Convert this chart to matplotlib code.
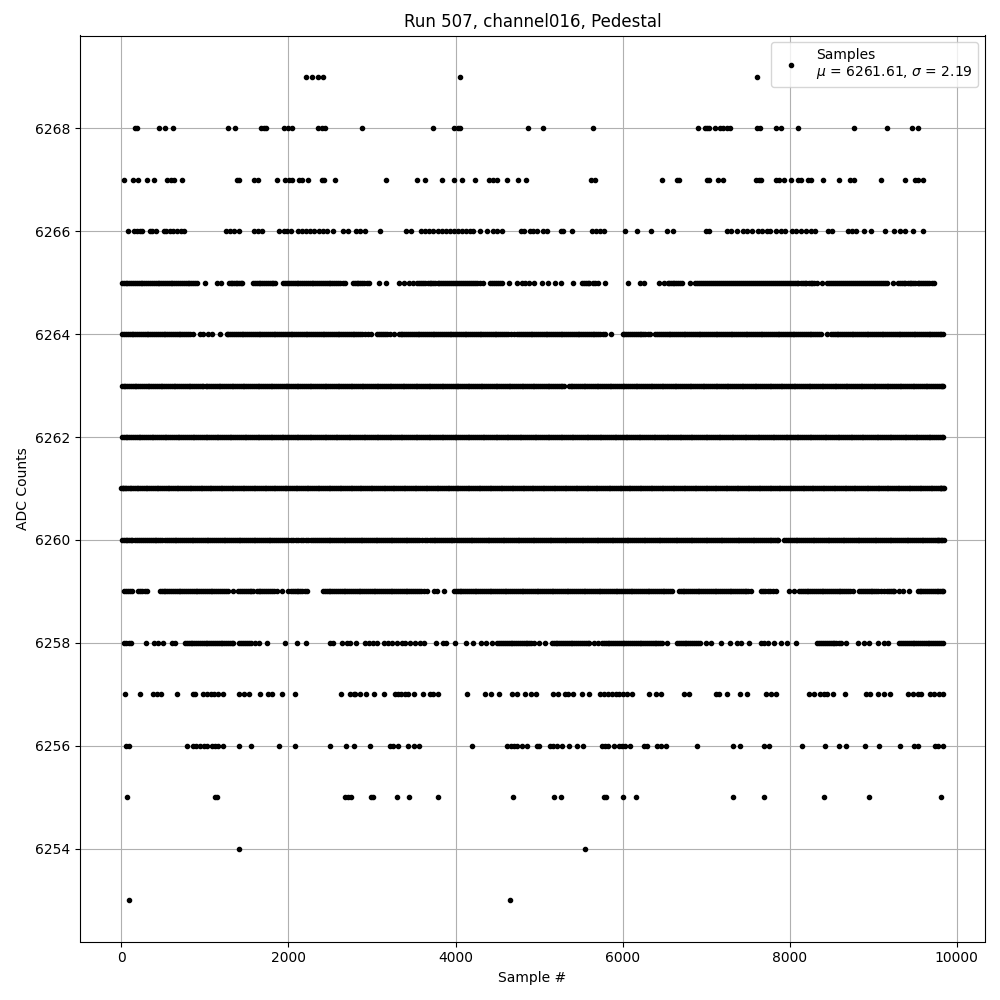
import matplotlib
matplotlib.use("Agg")
import matplotlib.pyplot as plt

s6269 = [2216, 2288, 2348, 2412, 4052, 7608]
s6268 = [160, 188, 452, 524, 624, 1280, 1364, 1676, 1704, 1736, 1952, 2000, 2040, 2348, 2400, 2432, 2876, 3728,
         3980, 4028, 4052, 4872, 5052, 5640, 6904, 6980, 7012, 7032, 7104, 7164, 7204, 7252, 7280, 7612, 7644,
         7840, 7900, 8100, 8772, 9168, 9468, 9532]
s6267 = [32, 140, 200, 312, 396, 552, 600, 636, 732, 1388, 1404, 1592, 1632, 1868, 1960, 2012, 2044, 2128, 2168,
         2232, 2400, 2424, 2552, 3164, 3536, 3632, 3836, 3980, 4076, 4232, 4396, 4444, 4500, 4616, 4748, 4844,
         5624, 5664, 6468, 6652, 6676, 7012, 7028, 7140, 7200, 7600, 7632, 7660, 7840, 7872, 7932, 8016, 8100,
         8132, 8220, 8260, 8400, 8592, 8720, 8772, 9096, 9384, 9504, 9532, 9600]
s6266 = [80, 152, 188, 220, 248, 340, 372, 420, 508, 540, 580, 620, 668, 712, 748, 1252, 1300, 1348, 1412, 1592,
         1632, 1684, 1892, 1948, 1988, 2032, 2120, 2160, 2212, 2260, 2308, 2360, 2412, 2460, 2532, 2648, 2708,
         2812, 2860, 2920, 3092, 3404, 3468, 3592, 3640, 3688, 3732, 3788, 3836, 3884, 3932, 3980, 4028, 4076,
         4124, 4172, 4204, 4292, 4376, 4444, 4500, 4552, 4780, 4820, 4892, 4932, 4972, 5052, 5092, 5260, 5292,
         5400, 5636, 5684, 5732, 5780, 6024, 6168, 6336, 6528, 6604, 6992, 7032, 7252, 7300, 7364, 7444, 7492,
         7552, 7620, 7672, 7724, 7764, 7840, 7892, 7944, 8032, 8080, 8140, 8192, 8252, 8304, 8464, 8504, 8692,
         8740, 8792, 8892, 8972, 9144, 9252, 9320, 9384, 9476, 9600]
s6265 = [12, 50, 95, 140, 185, 230, 275, 320, 365, 410, 455, 500, 545, 590, 635, 680, 725, 770, 815, 860, 905,
         1004, 1140, 1192, 1292, 1330, 1370, 1410, 1450, 1572, 1620, 1665, 1710, 1755, 1800, 1840, 1940, 1985,
         2030, 2075, 2120, 2165, 2210, 2255, 2300, 2345, 2390, 2435, 2480, 2525, 2570, 2615, 2680, 2768, 2815,
         2860, 2910, 2960, 3080, 3168, 3320, 3388, 3440, 3492, 3540, 3590, 3640, 3690, 3735, 3785, 3830, 3880,
         3925, 3975, 4020, 4070, 4115, 4165, 4210, 4260, 4332, 4412, 4460, 4510, 4560, 4640, 4740, 4790, 4835,
         4880, 4940, 5032, 5112, 5192, 5268, 5412, 5512, 5560, 5600, 5640, 5670, 5700, 5792, 6060, 6212, 6252,
         6432, 6492, 6540, 6580, 6620, 6660, 6712, 6804, 6872, 6920, 6965, 7015, 7060, 7110, 7155, 7205, 7250,
         7300, 7345, 7395, 7440, 7490, 7535, 7585, 7630, 7680, 7725, 7775, 7820, 7870, 7915, 7965, 8010, 8060,
         8105, 8155, 8200, 8250, 8295, 8332, 8384, 8452, 8500, 8545, 8595, 8640, 8690, 8735, 8785, 8830, 8880,
         8925, 8975, 9020, 9070, 9115, 9165, 9232, 9292, 9340, 9385, 9435, 9480, 9530, 9575, 9625, 9670, 9732,
         33, 72, 118, 161, 208, 252, 298, 343, 388, 433, 478, 522, 567, 612, 657, 703, 748, 793, 838, 882,
         1311, 1351, 1389, 1431, 1596, 1642, 1688, 1733, 1778, 1821, 1962, 2008, 2052, 2098, 2143, 2187, 2232,
         2278, 2323, 2367, 2412, 2458, 2503, 2547, 2592, 2648, 2791, 2838, 2885, 2935, 3565, 3615, 3665, 3712,
         3760, 3807, 3855, 3902, 3950, 3998, 4045, 4092, 4140, 4187, 4235, 4296, 4436, 4485, 4535, 5536, 5580,
         6560, 6600, 6640, 6686, 6896, 6942, 6990, 7037, 7085, 7132, 7180, 7227, 7275, 7322, 7370, 7417, 7465,
         7512, 7560, 7607, 7655, 7702, 7750, 7797, 7845, 7892, 7940, 7987, 8035, 8082, 8130, 8177, 8225, 8272,
         8476, 8522, 8570, 8617, 8665, 8712, 8760, 8807, 8855, 8902, 8950, 8997, 9045, 9092, 9140, 9316, 9362,
         9410, 9457, 9505, 9552, 9600, 9647, 9700]
s6264 = [12, 55, 100, 145, 190, 235, 280, 325, 370, 415, 460, 505, 550, 595, 640, 685, 730, 775, 820, 860, 940,
         980, 1040, 1080, 1180, 1260, 1305, 1350, 1395, 1440, 1485, 1530, 1575, 1620, 1665, 1710, 1755, 1800,
         1845, 1890, 1935, 1980, 2025, 2070, 2115, 2160, 2205, 2250, 2295, 2340, 2385, 2430, 2475, 2520, 2565,
         2610, 2655, 2700, 2745, 2790, 2835, 2880, 2950, 2992, 3060, 3105, 3150, 3220, 3260, 3320, 3365, 3410,
         3455, 3500, 3545, 3590, 3635, 3680, 3725, 3770, 3815, 3860, 3905, 3950, 3995, 4040, 4085, 4130, 4175,
         4220, 4265, 4310, 4355, 4400, 4445, 4490, 4535, 4580, 4625, 4700, 4740, 4785, 4830, 4875, 4920, 4965,
         5010, 5055, 5100, 5145, 5190, 5235, 5280, 5325, 5370, 5415, 5460, 5505, 5550, 5595, 5640, 5685, 5730,
         5792, 5860, 6000, 6045, 6090, 6135, 6180, 6225, 6270, 6332, 6392, 6437, 6482, 6527, 6572, 6617, 6662,
         6707, 6752, 6797, 6842, 6887, 6932, 6977, 7022, 7067, 7112, 7157, 7202, 7247, 7292, 7337, 7382, 7427,
         7472, 7517, 7562, 7607, 7652, 7697, 7742, 7787, 7832, 7877, 7922, 7967, 8012, 8057, 8102, 8147, 8192,
         8237, 8282, 8327, 8372, 8452, 8492, 8537, 8582, 8627, 8672, 8717, 8762, 8807, 8852, 8897, 8942, 8987,
         9032, 9077, 9122, 9167, 9212, 9257, 9302, 9347, 9392, 9437, 9482, 9527, 9572, 9617, 9662, 9707, 9752,
         9797, 9832,
         34, 78, 122, 168, 212, 258, 302, 348, 392, 438, 482, 528, 572, 618, 662, 708, 752, 798, 1282, 1328, 1372,
         1418, 1462, 1508, 1552, 1598, 1642, 1688, 1732, 1778, 1822, 1868, 1912, 1958, 2002, 2048, 2092, 2138,
         2182, 2228, 2272, 2318, 2362, 2408, 2452, 2498, 2542, 2588, 2632, 2678, 2722, 2768, 2812, 2858, 2915,
         3082, 3128, 3185, 3342, 3388, 3432, 3478, 3522, 3568, 3612, 3658, 3702, 3748, 3792, 3838, 3882, 3928,
         3972, 4018, 4062, 4108, 4152, 4198, 4242, 4288, 4332, 4378, 4422, 4468, 4512, 4558, 4602, 4662, 4762,
         4808, 4852, 4898, 4942, 4988, 5032, 5078, 5122, 5168, 5212, 5258, 5302, 5348, 5392, 5438, 5482, 5528,
         5572, 5618, 5662, 5708, 5760, 6022, 6068, 6112, 6158, 6202, 6248, 6300, 6414, 6460, 6504, 6550, 6594,
         6640, 6684, 6730, 6774, 6820, 6864, 6910, 6954, 7000, 7044, 7090, 7134, 7180, 7224, 7270, 7314, 7360,
         7404, 7450, 7494, 7540, 7584, 7630, 7674, 7720, 7764, 7810, 7854, 7900, 7944, 7990, 8034, 8080, 8124,
         8170, 8214, 8260, 8304, 8350, 8514, 8560, 8604, 8650, 8694, 8740, 8784, 8830, 8874, 8920, 8964, 9010,
         9054, 9100, 9144, 9190, 9234, 9280, 9324, 9370, 9414, 9460, 9504, 9550, 9594, 9640, 9684, 9730, 9774,
         9815]
s6263 = [5, 48, 92, 137, 180, 226, 271, 314, 360, 403, 449, 492, 538, 581, 627, 670, 716, 759, 805, 848, 894,
         937, 983, 1030, 1075, 1118, 1164, 1207, 1253, 1296, 1342, 1385, 1431, 1474, 1520, 1563, 1609, 1652,
         1698, 1741, 1787, 1830, 1876, 1919, 1965, 2008, 2054, 2097, 2143, 2186, 2232, 2275, 2321, 2364, 2410,
         2453, 2499, 2542, 2588, 2631, 2677, 2720, 2766, 2809, 2855, 2898, 2944, 2987, 3033, 3076, 3122, 3165,
         3211, 3254, 3300, 3343, 3389, 3432, 3478, 3521, 3567, 3610, 3656, 3699, 3745, 3788, 3834, 3877, 3923,
         3966, 4012, 4055, 4101, 4144, 4190, 4233, 4279, 4322, 4368, 4411, 4457, 4500, 4546, 4589, 4635, 4678,
         4724, 4767, 4813, 4856, 4902, 4945, 4991, 5034, 5080, 5123, 5169, 5212, 5258, 5300, 5355, 5398, 5444,
         5487, 5533, 5576, 5622, 5665, 5711, 5754, 5800, 5843, 5889, 5932, 5978, 6021, 6067, 6110, 6156, 6199,
         6245, 6288, 6334, 6377, 6423, 6466, 6512, 6555, 6601, 6644, 6690, 6733, 6779, 6822, 6868, 6911, 6957,
         7000, 7046, 7089, 7135, 7178, 7224, 7267, 7313, 7356, 7402, 7445, 7491, 7534, 7580, 7623, 7669, 7712,
         7758, 7801, 7847, 7890, 7936, 7979, 8025, 8068, 8114, 8157, 8203, 8246, 8292, 8335, 8381, 8424, 8470,
         8513, 8559, 8602, 8648, 8691, 8737, 8780, 8826, 8869, 8915, 8958, 9004, 9047, 9093, 9136, 9182, 9225,
         9271, 9314, 9360, 9403, 9449, 9492, 9538, 9581, 9627, 9670, 9716, 9759, 9805, 9832,
         27, 70, 114, 158, 203, 249, 292, 337, 381, 426, 470, 515, 559, 604, 648, 693, 737, 782, 826, 871, 915,
         960, 1008, 1053, 1097, 1141, 1186, 1230, 1275, 1319, 1364, 1408, 1453, 1497, 1542, 1586, 1631, 1675,
         1720, 1764, 1809, 1853, 1898, 1942, 1987, 2031, 2076, 2120, 2165, 2209, 2254, 2298, 2343, 2387, 2432,
         2476, 2521, 2565, 2610, 2654, 2699, 2743, 2788, 2832, 2877, 2921, 2966, 3010, 3055, 3099, 3144, 3188,
         3233, 3277, 3322, 3366, 3411, 3455, 3500, 3544, 3589, 3633, 3678, 3722, 3767, 3811, 3856, 3900, 3945,
         3989, 4034, 4078, 4123, 4167, 4212, 4256, 4301, 4345, 4390, 4434, 4479, 4523, 4568, 4612, 4657, 4701,
         4746, 4790, 4835, 4879, 4924, 4968, 5013, 5057, 5102, 5146, 5191, 5235, 5279, 5377, 5421, 5466, 5510,
         5555, 5599, 5644, 5688, 5733, 5777, 5822, 5866, 5911, 5955, 6000, 6044, 6089, 6133, 6178, 6222, 6267,
         6311, 6356, 6400, 6445, 6489, 6534, 6578, 6623, 6667, 6712, 6756, 6801, 6845, 6890, 6934, 6979, 7023,
         7068, 7112, 7157, 7201, 7246, 7290, 7335, 7379, 7424, 7468, 7513, 7557, 7602, 7646, 7691, 7735, 7780,
         7824, 7869, 7913, 7958, 8002, 8047, 8091, 8136, 8180, 8225, 8269, 8314, 8358, 8403, 8447, 8492, 8536,
         8581, 8625, 8670, 8714, 8759, 8803, 8848, 8892, 8937, 8981, 9026, 9070, 9115, 9159, 9204, 9248, 9293,
         9337, 9382, 9426, 9471, 9515, 9560, 9604, 9649, 9693, 9738, 9782, 9820]
s6262 = [8, 30, 72, 118, 161, 207, 250, 296, 339, 385, 428, 474, 517, 563, 606, 652, 695, 741, 784, 830, 873,
         919, 962, 1008, 1051, 1097, 1140, 1186, 1229, 1275, 1318, 1364, 1407, 1453, 1496, 1542, 1585, 1631,
         1674, 1720, 1763, 1809, 1852, 1898, 1941, 1987, 2030, 2076, 2119, 2165, 2208, 2254, 2297, 2343, 2386,
         2432, 2475, 2521, 2564, 2610, 2653, 2699, 2742, 2788, 2831, 2877, 2920, 2966, 3009, 3055, 3098, 3144,
         3187, 3233, 3276, 3322, 3365, 3411, 3454, 3500, 3543, 3589, 3632, 3678, 3721, 3767, 3810, 3856, 3899,
         3945, 3988, 4034, 4077, 4123, 4166, 4212, 4255, 4301, 4344, 4390, 4433, 4479, 4522, 4568, 4611, 4657,
         4700, 4746, 4789, 4835, 4878, 4924, 4967, 5013, 5056, 5102, 5145, 5191, 5234, 5280, 5323, 5369, 5412,
         5458, 5501, 5547, 5590, 5636, 5679, 5725, 5768, 5814, 5857, 5903, 5946, 5992, 6035, 6081, 6124, 6170,
         6213, 6259, 6302, 6348, 6391, 6437, 6480, 6526, 6569, 6615, 6658, 6704, 6747, 6793, 6836, 6882, 6925,
         6971, 7014, 7060, 7103, 7149, 7192, 7238, 7281, 7327, 7370, 7416, 7459, 7505, 7548, 7594, 7637, 7683,
         7726, 7772, 7815, 7861, 7904, 7950, 7993, 8039, 8082, 8128, 8171, 8217, 8260, 8306, 8349, 8395, 8438,
         8484, 8527, 8573, 8616, 8662, 8705, 8751, 8794, 8840, 8883, 8929, 8972, 9018, 9061, 9107, 9150, 9196,
         9239, 9285, 9328, 9374, 9417, 9463, 9506, 9552, 9595, 9641, 9684, 9730, 9773, 9819, 9832,
         52, 95, 140, 184, 229, 273, 318, 362, 407, 451, 496, 540, 585, 629, 674, 718, 763, 807, 852, 896, 941,
         985, 1030, 1074, 1119, 1163, 1208, 1252, 1297, 1341, 1386, 1430, 1475, 1519, 1564, 1608, 1653, 1697,
         1742, 1786, 1831, 1875, 1920, 1964, 2009, 2053, 2098, 2142, 2187, 2231, 2276, 2320, 2365, 2409, 2454,
         2498, 2543, 2587, 2632, 2676, 2721, 2765, 2810, 2854, 2899, 2943, 2988, 3032, 3077, 3121, 3166, 3210,
         3255, 3299, 3344, 3388, 3433, 3477, 3522, 3566, 3611, 3655, 3700, 3744, 3789, 3833, 3878, 3922, 3967,
         4011, 4056, 4100, 4145, 4189, 4234, 4278, 4323, 4367, 4412, 4456, 4501, 4545, 4590, 4634, 4679, 4723,
         4768, 4812, 4857, 4901, 4946, 4990, 5035, 5079, 5124, 5168, 5213, 5257, 5302, 5346, 5391, 5435, 5480,
         5524, 5569, 5613, 5658, 5702, 5747, 5791, 5836, 5880, 5925, 5969, 6014, 6058, 6103, 6147, 6192, 6236,
         6281, 6325, 6370, 6414, 6459, 6503, 6548, 6592, 6637, 6681, 6726, 6770, 6815, 6859, 6904, 6948, 6993,
         7037, 7082, 7126, 7171, 7215, 7260, 7304, 7349, 7393, 7438, 7482, 7527, 7571, 7616, 7660, 7705, 7749,
         7794, 7838, 7883, 7927, 7972, 8016, 8061, 8105, 8150, 8194, 8239, 8283, 8328, 8372, 8417, 8461, 8506,
         8550, 8595, 8639, 8684, 8728, 8773, 8817, 8862, 8906, 8951, 8995, 9040, 9084, 9129, 9173, 9218, 9262,
         9307, 9351, 9396, 9440, 9485, 9529, 9574, 9618, 9663, 9707, 9752, 9796]
s6261 = [0, 15, 40, 78, 120, 164, 203, 249, 291, 335, 378, 421, 466, 509, 553, 597, 641, 684, 729, 772, 816, 860,
         903, 948, 991, 1035, 1079, 1122, 1167, 1210, 1254, 1298, 1341, 1386, 1429, 1473, 1517, 1560, 1605, 1648,
         1692, 1736, 1779, 1824, 1867, 1911, 1955, 1998, 2043, 2086, 2130, 2174, 2217, 2262, 2305, 2349, 2393,
         2436, 2481, 2524, 2568, 2612, 2655, 2700, 2743, 2787, 2831, 2874, 2919, 2962, 3006, 3050, 3093, 3138,
         3181, 3225, 3269, 3312, 3357, 3400, 3444, 3488, 3531, 3576, 3619, 3663, 3707, 3750, 3795, 3838, 3882,
         3926, 3969, 4014, 4057, 4101, 4145, 4188, 4233, 4276, 4320, 4364, 4407, 4452, 4495, 4539, 4583, 4626,
         4671, 4714, 4758, 4802, 4845, 4890, 4933, 4977, 5021, 5064, 5109, 5152, 5196, 5240, 5283, 5328, 5371,
         5415, 5459, 5502, 5547, 5590, 5634, 5678, 5721, 5766, 5809, 5853, 5897, 5940, 5985, 6028, 6072, 6116,
         6159, 6204, 6247, 6291, 6335, 6378, 6423, 6466, 6510, 6554, 6597, 6642, 6685, 6729, 6773, 6816, 6861,
         6904, 6948, 6992, 7035, 7080, 7123, 7167, 7211, 7254, 7299, 7342, 7386, 7430, 7473, 7518, 7561, 7605,
         7649, 7692, 7737, 7780, 7824, 7868, 7911, 7956, 7999, 8043, 8087, 8130, 8175, 8218, 8262, 8306, 8349,
         8394, 8437, 8481, 8525, 8568, 8613, 8656, 8700, 8744, 8787, 8832, 8875, 8919, 8963, 9006, 9051, 9094,
         9138, 9182, 9225, 9270, 9313, 9357, 9401, 9444, 9489, 9532, 9576, 9620, 9663, 9708, 9751, 9795, 9815,
         9830, 9845,
         26, 60, 100, 142, 184, 226, 270, 313, 356, 400, 443, 488, 531, 575, 619, 662, 707, 750, 794, 838, 881,
         926, 969, 1013, 1057, 1100, 1145, 1188, 1232, 1276, 1319, 1364, 1407, 1451, 1495, 1538, 1583, 1626,
         1670, 1714, 1757, 1802, 1845, 1889, 1933, 1976, 2021, 2064, 2108, 2152, 2195, 2240, 2283, 2327, 2371,
         2414, 2459, 2502, 2546, 2590, 2633, 2678, 2721, 2765, 2809, 2852, 2897, 2940, 2984, 3028, 3071, 3116,
         3159, 3203, 3247, 3290, 3335, 3378, 3422, 3466, 3509, 3554, 3597, 3641, 3685, 3728, 3773, 3816, 3860,
         3904, 3947, 3992, 4035, 4079, 4123, 4166, 4211, 4254, 4298, 4342, 4385, 4430, 4473, 4517, 4561, 4604,
         4649, 4692, 4736, 4780, 4823, 4868, 4911, 4955, 4999, 5042, 5087, 5130, 5174, 5218, 5261, 5306, 5349,
         5393, 5437, 5480, 5525, 5568, 5612, 5656, 5699, 5744, 5787, 5831, 5875, 5918, 5963, 6006, 6050, 6094,
         6137, 6182, 6225, 6269, 6313, 6356, 6401, 6444, 6488, 6532, 6575, 6620, 6663, 6707, 6751, 6794, 6839,
         6882, 6926, 6970, 7013, 7058, 7101, 7145, 7189, 7232, 7277, 7320, 7364, 7408, 7451, 7496, 7539, 7583,
         7627, 7670, 7715, 7758, 7802, 7846, 7889, 7934, 7977, 8021, 8065, 8108, 8153, 8196, 8240, 8284, 8327,
         8372, 8415, 8459, 8503, 8546, 8591, 8634, 8678, 8722, 8765, 8810, 8853, 8897, 8941, 8984, 9029, 9072,
         9116, 9160, 9203, 9248, 9291, 9335, 9379, 9422, 9467, 9510, 9554, 9598, 9641, 9686, 9729, 9773, 9805]
s6260 = [8, 50, 92, 130, 190, 240, 285, 330, 375, 420, 465, 520, 575, 615, 660, 705, 750, 795, 840, 885, 930, 975,
         1020, 1065, 1110, 1155, 1200, 1245, 1290, 1335, 1380, 1425, 1470, 1515, 1560, 1605, 1650, 1695, 1740,
         1785, 1830, 1875, 1920, 1965, 2000, 2060, 2120, 2180, 2240, 2300, 2345, 2390, 2435, 2480, 2525, 2570,
         2615, 2660, 2705, 2750, 2795, 2840, 2885, 2930, 2975, 3020, 3065, 3110, 3155, 3200, 3245, 3290, 3335,
         3380, 3425, 3470, 3515, 3560, 3600, 3660, 3720, 3760, 3805, 3850, 3895, 3940, 3985, 4045, 4090, 4135,
         4180, 4225, 4270, 4315, 4360, 4405, 4450, 4495, 4540, 4585, 4630, 4675, 4720, 4765, 4810, 4855, 4900,
         4945, 4990, 5035, 5080, 5125, 5170, 5215, 5260, 5305, 5350, 5395, 5440, 5485, 5530, 5575, 5620, 5665,
         5710, 5755, 5800, 5845, 5890, 5935, 5980, 6025, 6070, 6115, 6160, 6205, 6250, 6295, 6340, 6385, 6430,
         6475, 6520, 6565, 6610, 6655, 6700, 6745, 6790, 6835, 6880, 6925, 6970, 7015, 7060, 7105, 7150, 7195,
         7240, 7285, 7330, 7375, 7420, 7465, 7510, 7555, 7600, 7645, 7690, 7735, 7780, 7825, 7860, 7935, 7980,
         8025, 8070, 8115, 8160, 8205, 8250, 8295, 8340, 8385, 8430, 8475, 8520, 8565, 8610, 8655, 8700, 8745,
         8790, 8835, 8880, 8925, 8970, 9015, 9060, 9105, 9150, 9195, 9240, 9285, 9330, 9375, 9420, 9465, 9510,
         9555, 9600, 9645, 9690, 9735, 9775, 9805, 9825, 9842,
         30, 72, 110, 160, 215, 262, 308, 352, 398, 442, 492, 548, 595, 638, 683, 728, 773, 818, 863, 908, 953,
         998, 1043, 1088, 1133, 1178, 1223, 1268, 1313, 1358, 1403, 1448, 1493, 1538, 1583, 1628, 1673, 1718,
         1763, 1808, 1853, 1898, 1943, 2030, 2090, 2150, 2210, 2270, 2323, 2368, 2413, 2458, 2503, 2548, 2593,
         2638, 2683, 2728, 2773, 2818, 2863, 2908, 2953, 2998, 3043, 3088, 3133, 3178, 3223, 3268, 3313, 3358,
         3403, 3448, 3493, 3538, 3630, 3690, 3740, 3783, 3828, 3873, 3918, 3963, 4015, 4068, 4113, 4158, 4203,
         4248, 4293, 4338, 4383, 4428, 4473, 4518, 4563, 4608, 4653, 4698, 4743, 4788, 4833, 4878, 4923, 4968,
         5013, 5058, 5103, 5148, 5193, 5238, 5283, 5328, 5373, 5418, 5463, 5508, 5553, 5598, 5643, 5688, 5733,
         5778, 5823, 5868, 5913, 5958, 6003, 6048, 6093, 6138, 6183, 6228, 6273, 6318, 6363, 6408, 6453, 6498,
         6543, 6588, 6633, 6678, 6723, 6768, 6813, 6858, 6903, 6948, 6993, 7038, 7083, 7128, 7173, 7218, 7263,
         7308, 7353, 7398, 7443, 7488, 7533, 7578, 7623, 7668, 7713, 7758, 7803, 7845, 7958, 8003, 8048, 8093,
         8138, 8183, 8228, 8273, 8318, 8363, 8408, 8453, 8498, 8543, 8588, 8633, 8678, 8723, 8768, 8813, 8858,
         8903, 8948, 8993, 9038, 9083, 9128, 9173, 9218, 9263, 9308, 9353, 9398, 9443, 9488, 9533, 9578, 9623,
         9668, 9713, 9758, 9790]
s6259 = [30, 75, 125, 200, 250, 310, 460, 505, 550, 595, 640, 685, 730, 775, 820, 865, 910, 955, 1000, 1045, 1090,
         1135, 1180, 1225, 1280, 1332, 1400, 1445, 1490, 1535, 1580, 1620, 1665, 1710, 1755, 1800, 1860, 1920,
         2000, 2032, 2075, 2120, 2165, 2228, 2412, 2457, 2502, 2547, 2592, 2637, 2682, 2727, 2772, 2817, 2862,
         2907, 2952, 2997, 3042, 3087, 3132, 3177, 3222, 3267, 3312, 3357, 3402, 3447, 3492, 3537, 3582, 3660,
         3740, 3780, 3860, 3980, 4025, 4070, 4115, 4160, 4205, 4250, 4295, 4340, 4385, 4430, 4475, 4520, 4565,
         4610, 4655, 4700, 4745, 4790, 4835, 4880, 4925, 4970, 5015, 5060, 5105, 5150, 5195, 5240, 5285, 5330,
         5375, 5420, 5465, 5510, 5555, 5600, 5645, 5690, 5735, 5780, 5825, 5870, 5915, 5960, 6005, 6050, 6095,
         6140, 6185, 6230, 6275, 6320, 6365, 6410, 6455, 6500, 6545, 6592, 6672, 6717, 6762, 6807, 6852, 6897,
         6942, 6987, 7032, 7077, 7122, 7167, 7212, 7257, 7302, 7347, 7392, 7437, 7482, 7532, 7660, 7705, 7760,
         7832, 7992, 8052, 8112, 8157, 8202, 8247, 8292, 8337, 8382, 8427, 8472, 8517, 8562, 8607, 8652, 8697,
         8752, 8832, 8877, 8922, 8967, 9012, 9057, 9132, 9164, 9209, 9254, 9312, 9352, 9432, 9532, 9577, 9622,
         9667, 9712, 9757, 9802, 9838,
         52, 98, 225, 285, 482, 528, 572, 618, 662, 708, 752, 798, 842, 888, 932, 978, 1022, 1068, 1112, 1158,
         1202, 1252, 1422, 1468, 1512, 1558, 1642, 1688, 1732, 1778, 1830, 2052, 2098, 2142, 2197, 2434, 2480,
         2524, 2570, 2614, 2660, 2704, 2750, 2794, 2840, 2884, 2930, 2974, 3020, 3064, 3110, 3154, 3200, 3244,
         3290, 3334, 3380, 3424, 3470, 3514, 3560, 3620, 4002, 4048, 4092, 4138, 4182, 4228, 4272, 4318, 4362,
         4408, 4452, 4498, 4542, 4588, 4632, 4678, 4722, 4768, 4812, 4858, 4902, 4948, 4992, 5038, 5082, 5128,
         5172, 5218, 5262, 5308, 5352, 5398, 5442, 5488, 5532, 5578, 5622, 5668, 5712, 5758, 5802, 5848, 5892,
         5938, 5982, 6028, 6072, 6118, 6162, 6208, 6252, 6298, 6342, 6388, 6432, 6478, 6522, 6568, 6694, 6740,
         6784, 6830, 6874, 6920, 6964, 7010, 7054, 7100, 7144, 7190, 7234, 7280, 7324, 7370, 7414, 7460, 7505,
         7680, 7735, 7795, 8134, 8180, 8224, 8270, 8314, 8360, 8404, 8450, 8494, 8540, 8584, 8630, 8674, 8725,
         8854, 8900, 8944, 8990, 9034, 9095, 9186, 9232, 9554, 9600, 9644, 9690, 9734, 9780, 9818]
s6258 = [28, 60, 90, 116, 292, 388, 440, 500, 612, 648, 760, 805, 850, 895, 940, 985, 1030, 1075, 1120, 1165,
         1210, 1255, 1300, 1340, 1412, 1457, 1502, 1547, 1600, 1652, 1740, 1960, 2100, 2208, 2492, 2528, 2640,
         2700, 2740, 2804, 2920, 2965, 3010, 3060, 3140, 3190, 3240, 3300, 3360, 3400, 3460, 3520, 3580, 3628,
         3764, 3852, 3884, 3992, 4124, 4208, 4300, 4360, 4436, 4500, 4545, 4590, 4635, 4680, 4725, 4770, 4815,
         4860, 4905, 4940, 5004, 5072, 5152, 5197, 5242, 5287, 5332, 5377, 5422, 5467, 5512, 5557, 5602, 5652,
         5704, 5752, 5797, 5842, 5887, 5932, 5977, 6022, 6067, 6112, 6157, 6202, 6247, 6292, 6337, 6382, 6427,
         6472, 6532, 6652, 6697, 6742, 6787, 6832, 6877, 6922, 6992, 7052, 7172, 7280, 7372, 7420, 7512, 7652,
         7697, 7742, 7812, 7892, 7972, 8080, 8332, 8377, 8422, 8467, 8512, 8557, 8612, 8672, 8812, 8892, 8952,
         9052, 9132, 9180, 9312, 9357, 9402, 9447, 9492, 9537, 9582, 9627, 9672, 9717, 9762, 9807, 9832,
         782, 828, 872, 918, 962, 1008, 1052, 1098, 1142, 1188, 1232, 1278, 1320, 1434, 1480, 1525, 4522, 4568,
         4612, 4658, 4702, 4748, 4792, 4838, 4882, 5174, 5220, 5264, 5310, 5354, 5400, 5444, 5490, 5534, 5580,
         5774, 5820, 5864, 5910, 5954, 6000, 6044, 6090, 6134, 6180, 6224, 6270, 6314, 6360, 6404, 6450, 6674,
         6720, 6764, 6810, 6854, 6900, 8354, 8400, 8444, 8490, 8534, 8585, 9334, 9380, 9424, 9470, 9514, 9560,
         9604, 9650, 9694, 9740, 9784]
s6257 = [44, 228, 380, 428, 480, 668, 852, 880, 980, 1025, 1070, 1115, 1160, 1212, 1412, 1468, 1524, 1664, 1760,
         1800, 1920, 2084, 2624, 2732, 2780, 2800, 2860, 2924, 3020, 3140, 3272, 3310, 3350, 3390, 3430, 3500,
         3608, 3700, 3728, 3792, 4140, 4352, 4428, 4520, 4672, 4740, 4832, 4900, 4960, 5164, 5232, 5312, 5352,
         5412, 5512, 5592, 5732, 5780, 5825, 5870, 5915, 5960, 6005, 6050, 6112, 6320, 6404, 6460, 6732, 6792,
         7112, 7152, 7244, 7404, 7492, 7712, 7772, 7832, 8232, 8292, 8364, 8412, 8450, 8512, 8664, 8912, 8964,
         9052, 9132, 9204, 9412, 9472, 9532, 9572, 9684, 9730, 9792, 9832]
s6256 = [52, 92, 788, 852, 895, 940, 985, 1030, 1080, 1120, 1160, 1220, 1412, 1556, 1892, 2084, 2500, 2688, 2780,
         2972, 3212, 3252, 3312, 3428, 3500, 3560, 4196, 4620, 4660, 4700, 4740, 4792, 4860, 4972, 5004, 5132,
         5172, 5220, 5272, 5364, 5452, 5520, 5752, 5790, 5830, 5892, 5952, 5990, 6030, 6092, 6252, 6292, 6412,
         6460, 6516, 6888, 7320, 7404, 7692, 7752, 8148, 8424, 8592, 8672, 8904, 9072, 9324, 9492, 9540, 9740,
         9780, 9832]
s6255 = [68, 1120, 1140, 2672, 2708, 2748, 2992, 3012, 3296, 3440, 3788, 4688, 5184, 5268, 5780, 5804, 6000, 6156,
         7320, 7692, 8412, 8952, 9816]
s6254 = [1412, 5544]
s6253 = [92, 4652]

levels = [6269, 6268, 6267, 6266, 6265, 6264, 6263, 6262, 6261, 6260, 6259, 6258, 6257, 6256, 6255, 6254, 6253]
samples = [s6269, s6268, s6267, s6266, s6265, s6264, s6263, s6262, s6261, s6260, s6259, s6258, s6257, s6256,
           s6255, s6254, s6253]
x = [v for row in samples for v in row]
y = [lev for lev, row in zip(levels, samples) for _ in row]

fig, ax = plt.subplots(figsize=(10, 10), dpi=100)
ax.plot(x, y, "k.", label="Samples\n$\\mu$ = 6261.61, $\\sigma$ = 2.19")
ax.set_title("Run 507, channel016, Pedestal")
ax.set_xlabel("Sample #")
ax.set_ylabel("ADC Counts")
ax.ticklabel_format(useOffset=False, style="plain", axis="y")
ax.grid(True)
ax.legend(loc="upper right")
fig.subplots_adjust(left=0.0802, right=0.985, top=0.9645, bottom=0.0585)
fig.savefig("out.png", dpi=100)
